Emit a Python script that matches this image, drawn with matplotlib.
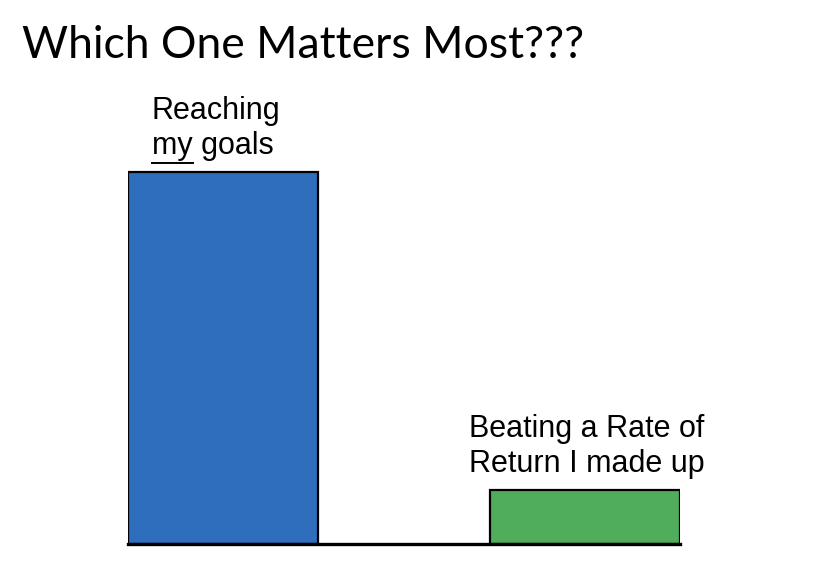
import numpy as np
import matplotlib
matplotlib.use("Agg")
import matplotlib.pyplot as plt
from matplotlib.lines import Line2D

# chart data
labels = [["Reaching", "my goals"],
          ["Beating a Rate of", "Return I made up"]]
underlined = ["my", None]   # word underlined on the last label line
values = [100, 14.5]
colors = ["#2F6DBD", "#50AD5C"]

W, H = 828, 566
fig = plt.figure(figsize=(W / 100, H / 100), dpi=100)
ax = fig.add_axes([128 / W, 22 / H, (680 - 128) / W, (544 - 100) / H])

x = np.arange(len(values))
width = 0.525
ax.bar(x, values, width=width, color=colors, edgecolor="black",
       linewidth=1.6, zorder=2)
ax.set_xlim(-width / 2, len(values) - 1 + width / 2)
ax.set_ylim(0, values[0] * 444 / 372)

ax.axhline(0, color="black", linewidth=2.4, zorder=3, clip_on=False)
for s in ax.spines.values():
    s.set_visible(False)
ax.set_xticks([])
ax.set_yticks([])

fig.text(22 / W, 1 - 58 / H, "Which One Matters Most???", fontsize=32,
         family="Lato", ha="left", va="baseline")

# bar labels: one text per line, stacked upward from the bar top
renderer = fig.canvas.get_renderer()
offsets_px = [24, -21]
line_px = 35
fs = 22
for xi, v, lines, word, off in zip(x, values, labels, underlined, offsets_px):
    base = ax.transData.transform((xi - width / 2, v))
    x0 = base[0] + off
    for k, line in enumerate(reversed(lines)):
        yb = base[1] + 18 + k * line_px
        fig.text(x0 / W, yb / H, line, fontsize=fs,
                 family="Liberation Sans", ha="left", va="baseline")
        if word and k == 0 and line.startswith(word):
            tmp = fig.text(x0 / W, yb / H, word, fontsize=fs,
                           family="Liberation Sans", ha="left",
                           va="baseline")
            bb = tmp.get_window_extent(renderer)
            tmp.remove()
            uy = yb - 9
            fig.add_artist(Line2D([bb.x0 / W, bb.x1 / W], [uy / H, uy / H],
                                  color="black", linewidth=1.4))

fig.savefig("out.png", dpi=100)
